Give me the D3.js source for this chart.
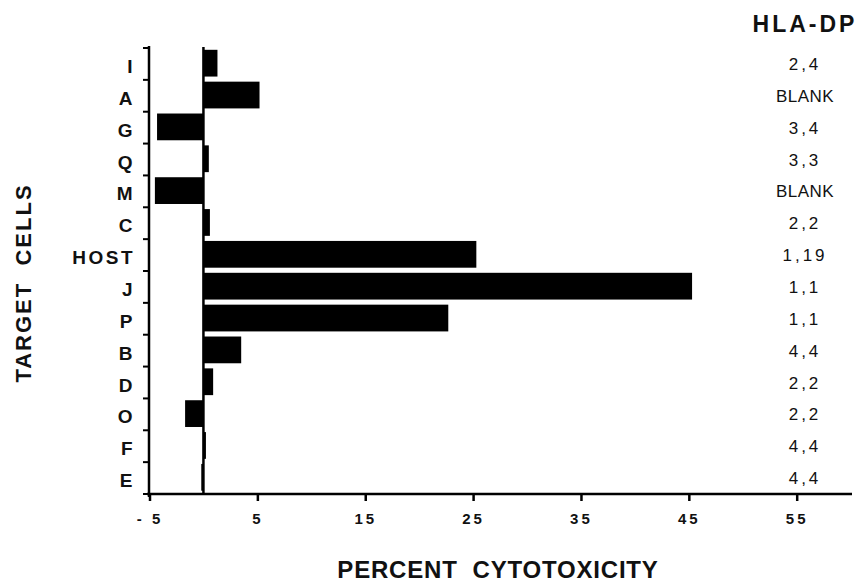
<!DOCTYPE html>
<html>
<head>
<meta charset="utf-8">
<style>
  body { margin: 0; background: #fff; }
  svg text { font-family: "Liberation Sans", Arial, Helvetica, sans-serif; fill: #111; }
</style>
</head>
<body>
<svg width="862" height="585"></svg>
<script src="https://d3js.org/d3.v7.min.js"></script>
<script>
    // target cells, top to bottom
    var cells = ["I", "A", "G", "Q", "M", "C", "HOST", "J", "P", "B", "D", "O", "F", "E"];
    // percent cytotoxicity
    var cytotoxicity = [1.3, 5.2, -4.3, 0.5, -4.5, 0.6, 25.3, 45.3, 22.7, 3.5, 0.9, -1.7, 0.2, -0.2];
    // HLA-DP typing column
    var hladp = ["2,4", "BLANK", "3,4", "3,3", "BLANK", "2,2", "1,19", "1,1", "1,1", "4,4", "2,2", "2,2", "4,4", "4,4"];
    var xTicks = [-5, 5, 15, 25, 35, 45, 55];

    var svg = d3.select("svg");

    var x = d3.scaleLinear()
        .domain([-5, 55])
        .range([149.5, 796.7]);

    var y = d3.scaleBand()
        .domain(cells)
        .range([48, 494])
        .padding(0);

    // bars
    svg.selectAll("rect.bar")
        .data(cells)
        .enter().append("rect")
        .attr("class", "bar")
        .attr("x", function(d, i) { return Math.min(x(0), x(cytotoxicity[i])); })
        .attr("y", function(d) { return y(d) + 1.8; })
        .attr("width", function(d, i) { return Math.max(2.5, Math.abs(x(cytotoxicity[i]) - x(0))); })
        .attr("height", y.bandwidth() * 0.84)
        .attr("fill", "#000");

    // zero line
    svg.append("line")
        .attr("x1", x(0)).attr("x2", x(0))
        .attr("y1", 47).attr("y2", 494)
        .attr("stroke", "#000")
        .attr("stroke-width", 2.5);

    // y axis with ticks on band edges
    svg.append("line")
        .attr("x1", 149).attr("x2", 149)
        .attr("y1", 46).attr("y2", 497)
        .attr("stroke", "#000")
        .attr("stroke-width", 2.5);

    var edges = cells.map(function(d) { return y(d); }).concat([494]);
    svg.selectAll("line.ytick")
        .data(edges)
        .enter().append("line")
        .attr("class", "ytick")
        .attr("x1", 143).attr("x2", 149)
        .attr("y1", function(d) { return d; })
        .attr("y2", function(d) { return d; })
        .attr("stroke", "#000")
        .attr("stroke-width", 2);

    svg.selectAll("text.cell")
        .data(cells)
        .enter().append("text")
        .attr("class", "cell")
        .attr("x", 135)
        .attr("y", function(d) { return y(d) + y.bandwidth() / 2 + 9; })
        .attr("text-anchor", "end")
        .style("font-size", "19px")
        .style("font-weight", "bold")
        .style("letter-spacing", "2.5px")
        .text(function(d) { return d; });

    // x axis
    var xAxis = d3.axisBottom(x)
        .tickValues(xTicks)
        .tickSize(7)
        .tickPadding(12)
        .tickFormat(function(d) { return d; });

    var gx = svg.append("g")
        .attr("transform", "translate(0,494)")
        .call(xAxis);
    gx.select(".domain").remove();
    gx.append("line")
        .attr("x1", 147).attr("x2", 852)
        .attr("stroke", "#000")
        .attr("stroke-width", 2.5);
    gx.selectAll(".tick line")
        .attr("stroke", "#000")
        .attr("stroke-width", 2.5);
    gx.selectAll(".tick text")
        .style("font-size", "15px")
        .style("font-weight", "bold")
        .style("letter-spacing", "3px")
        .style("font-family", "'Liberation Sans', Arial, sans-serif")
        .attr("fill", "#111")
        .text(function(d) { return d < 0 ? "- " + Math.abs(d) : d; });

    // HLA-DP column
    svg.append("text")
        .attr("x", 805)
        .attr("y", 32)
        .attr("text-anchor", "middle")
        .style("font-size", "23px")
        .style("font-weight", "bold")
        .style("letter-spacing", "3px")
        .text("HLA-DP");

    svg.selectAll("text.hla")
        .data(hladp)
        .enter().append("text")
        .attr("class", "hla")
        .attr("x", 805)
        .attr("y", function(d, i) { return y(cells[i]) + y.bandwidth() / 2 + 6; })
        .attr("text-anchor", "middle")
        .style("font-size", "17px")
        .style("letter-spacing", function(d) { return d == "BLANK" ? "0.5px" : "3px"; })
        .text(function(d) { return d; });

    // axis titles
    svg.append("text")
        .attr("x", 498)
        .attr("y", 578)
        .attr("text-anchor", "middle")
        .style("font-size", "24px")
        .style("font-weight", "bold")
        .style("letter-spacing", "0.8px")
        .attr("xml:space", "preserve")
        .text("PERCENT  CYTOTOXICITY");

    svg.append("text")
        .attr("transform", "translate(31,283) rotate(-90)")
        .attr("text-anchor", "middle")
        .style("font-size", "22px")
        .style("font-weight", "bold")
        .style("letter-spacing", "2px")
        .attr("xml:space", "preserve")
        .text("TARGET  CELLS");
</script>
</body>
</html>
